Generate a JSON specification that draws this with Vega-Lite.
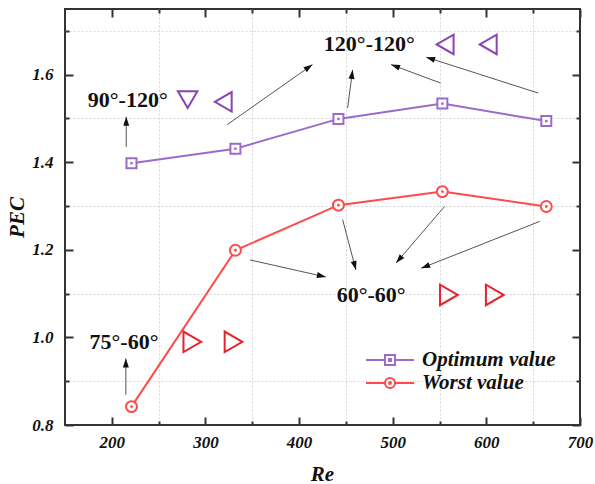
{
  "$schema": "https://vega.github.io/schema/vega-lite/v6.json",
  "width": 515,
  "height": 416,
  "autosize": {"type": "none"},
  "padding": {"left": 65, "top": 9, "right": 15, "bottom": 59},
  "background": "white",
  "config": {
    "view": {"stroke": "#333333", "strokeWidth": 2},
    "legend": {"symbolOpacity": 1},
    "axis": {
      "labelFont": "Liberation Serif",
      "labelFontSize": 17,
      "labelFontStyle": "italic",
      "labelFontWeight": "bold",
      "labelColor": "#111111",
      "titleFont": "Liberation Serif",
      "titleFontSize": 21,
      "titleFontStyle": "italic",
      "titleFontWeight": "bold",
      "titleColor": "#111111",
      "tickColor": "#333333",
      "tickWidth": 2,
      "domain": false,
      "grid": false,
      "labelFlush": false,
      "labelOverlap": false
    }
  },
  "datasets": {
    "series": [
      {"series": "Optimum value", "Re": 221, "PEC": 1.398},
      {"series": "Optimum value", "Re": 332, "PEC": 1.431},
      {"series": "Optimum value", "Re": 442, "PEC": 1.499},
      {"series": "Optimum value", "Re": 553, "PEC": 1.534},
      {"series": "Optimum value", "Re": 664, "PEC": 1.494},
      {"series": "Worst value", "Re": 221, "PEC": 0.842},
      {"series": "Worst value", "Re": 332, "PEC": 1.199},
      {"series": "Worst value", "Re": 442, "PEC": 1.302},
      {"series": "Worst value", "Re": 553, "PEC": 1.333},
      {"series": "Worst value", "Re": 664, "PEC": 1.299}
    ],
    "notes": [
      {"label": "90°-120°", "Re": 217, "PEC": 1.543},
      {"label": "120°-120°", "Re": 475, "PEC": 1.669},
      {"label": "60°-60°", "Re": 477, "PEC": 1.097},
      {"label": "75°-60°", "Re": 213, "PEC": 0.99}
    ],
    "tri": [
      {"kind": "down", "Re": 281, "PEC": 1.543},
      {"kind": "left", "Re": 319, "PEC": 1.538},
      {"kind": "left", "Re": 556, "PEC": 1.669},
      {"kind": "left", "Re": 602, "PEC": 1.669},
      {"kind": "right", "Re": 560, "PEC": 1.097},
      {"kind": "right", "Re": 609, "PEC": 1.097},
      {"kind": "right", "Re": 286, "PEC": 0.99},
      {"kind": "right", "Re": 330, "PEC": 0.99}
    ],
    "arrows": [
      {"Re": 215.4, "PEC": 1.435, "Re2": 215.4, "PEC2": 1.504},
      {"Re": 323.3, "PEC": 1.486, "Re2": 414.3, "PEC2": 1.623},
      {"Re": 451.8, "PEC": 1.524, "Re2": 457.2, "PEC2": 1.611},
      {"Re": 551.0, "PEC": 1.581, "Re2": 498.2, "PEC2": 1.623},
      {"Re": 655.4, "PEC": 1.558, "Re2": 535.7, "PEC2": 1.640},
      {"Re": 347.5, "PEC": 1.177, "Re2": 428.6, "PEC2": 1.138},
      {"Re": 446.5, "PEC": 1.269, "Re2": 460.7, "PEC2": 1.154},
      {"Re": 555.3, "PEC": 1.299, "Re2": 503.6, "PEC2": 1.170},
      {"Re": 657.1, "PEC": 1.265, "Re2": 530.4, "PEC2": 1.158},
      {"Re": 215.0, "PEC": 0.869, "Re2": 215.0, "PEC2": 0.952}
    ]
  },
  "resolve": {"axis": {"x": "independent", "y": "independent"}},
  "layer": [
    {
      "data": {"name": "series"},
      "transform": [{"filter": "datum.series === 'Optimum value'"}],
      "mark": {"type": "line", "strokeWidth": 2, "color": "#9b6bcc"},
      "encoding": {
        "x": {
          "field": "Re", "type": "quantitative",
          "scale": {"domain": [150, 700], "nice": false, "zero": false},
          "axis": {"orient": "bottom", "values": [200, 300, 400, 500, 600, 700], "tickSize": -8, "labelPadding": 17, "title": "Re", "titleX": 257, "titleY": 49, "titleBaseline": "middle", "titleAlign": "center"}
        },
        "y": {
          "field": "PEC", "type": "quantitative",
          "scale": {"domain": [0.8, 1.75], "nice": false, "zero": false},
          "axis": {"orient": "left", "values": [0.8, 1.0, 1.2, 1.4, 1.6], "format": ".1f", "tickSize": -8, "labelPadding": 20, "title": "PEC", "titleX": -48, "titleY": 208, "titleBaseline": "middle", "titleAlign": "center", "titleAngle": -90}
        }
      }
    },
    {
      "data": {"name": "series"},
      "transform": [{"filter": "datum.series === 'Worst value'"}],
      "mark": {"type": "line", "strokeWidth": 2, "color": "#ff4a4a"},
      "encoding": {
        "x": {
          "field": "Re", "type": "quantitative",
          "axis": {"orient": "bottom", "values": [250, 350, 450, 550, 650], "tickSize": -4, "labels": false, "title": null, "grid": true, "gridDash": [2, 2], "gridColor": "#d6d6d6", "gridWidth": 1}
        },
        "y": {
          "field": "PEC", "type": "quantitative",
          "axis": {"orient": "left", "values": [0.9, 1.1, 1.3, 1.5, 1.7], "tickSize": -4, "labels": false, "title": null, "grid": true, "gridDash": [2, 2], "gridColor": "#d6d6d6", "gridWidth": 1}
        }
      }
    },
    {
      "data": {"name": "series"},
      "transform": [{"filter": "datum.series === 'Optimum value'"}],
      "mark": {"type": "point", "shape": "square", "size": 100, "strokeWidth": 2, "filled": false, "color": "#9b6bcc", "fill": "white", "fillOpacity": 1, "opacity": 1},
      "encoding": {
        "x": {
          "field": "Re", "type": "quantitative",
          "axis": {"orient": "top", "values": [200, 300, 400, 500, 600, 700], "tickSize": -8, "labels": false, "title": null}
        },
        "y": {
          "field": "PEC", "type": "quantitative",
          "axis": {"orient": "right", "values": [0.8, 1.0, 1.2, 1.4, 1.6], "tickSize": -8, "labels": false, "title": null}
        }
      }
    },
    {
      "data": {"name": "series"},
      "transform": [{"filter": "datum.series === 'Worst value'"}],
      "mark": {"type": "point", "shape": "circle", "size": 120, "strokeWidth": 2, "filled": false, "color": "#ff4a4a", "fill": "white", "fillOpacity": 1, "opacity": 1},
      "encoding": {
        "x": {
          "field": "Re", "type": "quantitative",
          "axis": {"orient": "top", "values": [250, 350, 450, 550, 650], "tickSize": -4, "labels": false, "title": null}
        },
        "y": {
          "field": "PEC", "type": "quantitative",
          "axis": {"orient": "right", "values": [0.9, 1.1, 1.3, 1.5, 1.7], "tickSize": -4, "labels": false, "title": null}
        }
      }
    },
    {
      "data": {"name": "series"},
      "transform": [{"filter": "datum.series === 'Optimum value'"}],
      "mark": {"type": "point", "shape": "square", "size": 6, "filled": true, "color": "#9b6bcc", "opacity": 1},
      "encoding": {
        "x": {"field": "Re", "type": "quantitative", "axis": null},
        "y": {"field": "PEC", "type": "quantitative", "axis": null}
      }
    },
    {
      "data": {"name": "series"},
      "transform": [{"filter": "datum.series === 'Worst value'"}],
      "mark": {"type": "point", "shape": "circle", "size": 8, "filled": true, "color": "#ff4a4a", "opacity": 1},
      "encoding": {
        "x": {"field": "Re", "type": "quantitative", "axis": null},
        "y": {"field": "PEC", "type": "quantitative", "axis": null}
      }
    },
    {
      "data": {"name": "notes"},
      "mark": {"type": "text", "font": "Liberation Serif", "fontSize": 22, "fontWeight": "bold", "color": "#111111", "align": "center", "baseline": "middle"},
      "encoding": {
        "x": {"field": "Re", "type": "quantitative", "axis": null},
        "y": {"field": "PEC", "type": "quantitative", "axis": null},
        "text": {"field": "label"}
      }
    },
    {
      "data": {"name": "tri"},
      "transform": [{"filter": "datum.kind === 'down'"}],
      "mark": {"type": "point", "shape": "triangle-down", "size": 380, "strokeWidth": 2, "filled": false, "color": "#8a44b0", "opacity": 1},
      "encoding": {
        "x": {"field": "Re", "type": "quantitative", "axis": null},
        "y": {"field": "PEC", "type": "quantitative", "axis": null}
      }
    },
    {
      "data": {"name": "tri"},
      "transform": [{"filter": "datum.kind === 'left'"}],
      "mark": {"type": "point", "shape": "triangle-left", "size": 380, "strokeWidth": 2, "filled": false, "color": "#8a44b0", "opacity": 1},
      "encoding": {
        "x": {"field": "Re", "type": "quantitative", "axis": null},
        "y": {"field": "PEC", "type": "quantitative", "axis": null}
      }
    },
    {
      "data": {"name": "tri"},
      "transform": [{"filter": "datum.kind === 'right'"}],
      "mark": {"type": "point", "shape": "triangle-right", "size": 420, "strokeWidth": 2, "filled": false, "color": "#e8222a", "opacity": 1},
      "encoding": {
        "x": {"field": "Re", "type": "quantitative", "axis": null},
        "y": {"field": "PEC", "type": "quantitative", "axis": null}
      }
    },
    {
      "data": {"name": "arrows"},
      "mark": {"type": "rule", "color": "#555555", "strokeWidth": 1},
      "encoding": {
        "x": {"field": "Re", "type": "quantitative", "axis": null},
        "y": {"field": "PEC", "type": "quantitative", "axis": null},
        "x2": {"field": "Re2"},
        "y2": {"field": "PEC2"}
      }
    },
    {
      "data": {"name": "arrows"},
      "transform": [
        {"calculate": "atan2((datum.Re2 - datum.Re) * 0.93333, (datum.PEC2 - datum.PEC) * 437.5) * 180 / PI", "as": "ang"}
      ],
      "mark": {"type": "point", "shape": "M0,0L-0.6,1.8L0.6,1.8Z", "size": 100, "filled": true, "color": "#111111", "opacity": 1, "strokeWidth": 0},
      "encoding": {
        "x": {"field": "Re2", "type": "quantitative", "axis": null},
        "y": {"field": "PEC2", "type": "quantitative", "axis": null},
        "angle": {"field": "ang", "type": "quantitative", "scale": null}
      }
    },
    {
      "data": {"name": "series"},
      "mark": {"type": "point", "filled": false, "strokeWidth": 2, "opacity": 0},
      "encoding": {
        "x": {"field": "Re", "type": "quantitative", "axis": null},
        "y": {"field": "PEC", "type": "quantitative", "axis": null},
        "color": {
          "field": "series", "type": "nominal",
          "scale": {"domain": ["Optimum value", "Worst value"], "range": ["#9b6bcc", "#ff4a4a"]},
          "legend": {
            "orient": "none", "legendX": 312, "legendY": 338, "title": null, "padding": 0,
            "labelFont": "Liberation Serif", "labelFontSize": 21, "labelFontStyle": "italic", "labelFontWeight": "bold", "labelColor": "#111111",
            "symbolSize": 576, "symbolStrokeWidth": 2, "labelOffset": 19, "rowPadding": 0, "symbolOpacity": 1
          }
        },
        "shape": {
          "field": "series", "type": "nominal",
          "scale": {"domain": ["Optimum value", "Worst value"], "range": [
            "M-2,0L-0.42,0M0.42,0L2,0M-0.42,-0.42L0.42,-0.42L0.42,0.42L-0.42,0.42ZM-0.08,-0.08L0.08,-0.08L0.08,0.08L-0.08,0.08Z",
            "M-2,0L-0.42,0M0.42,0L2,0M0.42,0A0.42,0.42,0,1,1,-0.42,0A0.42,0.42,0,1,1,0.42,0ZM0.08,0A0.08,0.08,0,1,1,-0.08,0A0.08,0.08,0,1,1,0.08,0Z"
          ]},
          "legend": {
            "orient": "none", "legendX": 312, "legendY": 338, "title": null, "padding": 0,
            "labelFont": "Liberation Serif", "labelFontSize": 21, "labelFontStyle": "italic", "labelFontWeight": "bold", "labelColor": "#111111",
            "symbolSize": 576, "symbolStrokeWidth": 2, "labelOffset": 19, "rowPadding": 0, "symbolOpacity": 1
          }
        }
      }
    }
  ]
}
